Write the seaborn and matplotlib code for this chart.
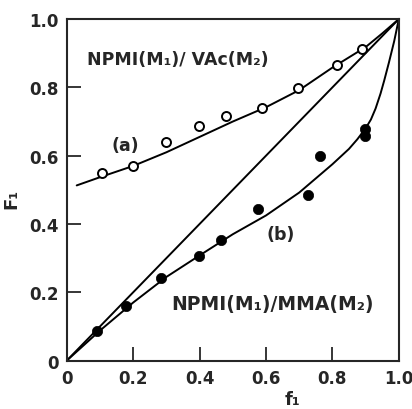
import numpy as np
import pandas as pd
import matplotlib
matplotlib.use("Agg")
import matplotlib.pyplot as plt
import seaborn as sns

# measured points, series (a): NPMI / VAc (open circles)
fa_pts = [0.105, 0.199, 0.298, 0.399, 0.479, 0.588, 0.697, 0.815, 0.89]
Fa_pts = [0.548, 0.569, 0.641, 0.687, 0.715, 0.740, 0.797, 0.867, 0.912]

# measured points, series (b): NPMI / MMA (filled circles)
fb_pts = [0.090, 0.178, 0.284, 0.397, 0.464, 0.575, 0.727, 0.764, 0.897, 0.897]
Fb_pts = [0.088, 0.159, 0.242, 0.307, 0.354, 0.444, 0.486, 0.600, 0.679, 0.657]

# fitted curves
fa_curve = [0.03, 0.1, 0.2, 0.3, 0.4, 0.5, 0.6, 0.7, 0.8, 0.9, 0.95, 1.0]
Fa_curve = [0.513, 0.537, 0.570, 0.610, 0.655, 0.700, 0.742, 0.792, 0.858, 0.918, 0.958, 1.0]

fb_curve = [0.0, 0.1, 0.2, 0.3, 0.4, 0.5, 0.6, 0.7, 0.8, 0.85, 0.875, 0.9,
            0.916, 0.93, 0.945, 0.956, 0.97, 0.986, 1.0]
Fb_curve = [0.0, 0.088, 0.170, 0.245, 0.308, 0.370, 0.425, 0.492, 0.575, 0.620, 0.648, 0.680,
            0.706, 0.738, 0.782, 0.820, 0.872, 0.935, 1.0]

diag = [0.0, 1.0]

ticks = [0, 0.2, 0.4, 0.6, 0.8, 1.0]
tick_labels = ["0", "0.2", "0.4", "0.6", "0.8", "1.0"]

sns.set_style("ticks")
plt.rcParams["font.family"] = ["DejaVu Sans"]
plt.rcParams["font.weight"] = "bold"

fig = plt.figure(figsize=(4.12, 4.10), dpi=100)
ax = fig.add_axes([0.162, 0.118, 0.806, 0.833])

lw = 1.4
sns.lineplot(x=diag, y=diag, ax=ax, color="black", lw=lw)
sns.lineplot(x=fa_curve, y=Fa_curve, ax=ax, color="black", lw=lw)
sns.lineplot(x=fb_curve, y=Fb_curve, ax=ax, color="black", lw=lw)

sns.scatterplot(x=fa_pts, y=Fa_pts, ax=ax, s=42, facecolor="white",
                edgecolor="black", linewidth=1.4, zorder=5)
sns.scatterplot(x=fb_pts, y=Fb_pts, ax=ax, s=55, color="black",
                edgecolor="black", linewidth=0.5, zorder=5)

ax.set_xlim(0, 1)
ax.set_ylim(0, 1)
ax.set_xticks(ticks)
ax.set_xticklabels(tick_labels)
ax.set_yticks(ticks)
ax.set_yticklabels(tick_labels)
ax.tick_params(direction="in", length=10, width=1.3, labelsize=12, pad=6)
for sp in ax.spines.values():
    sp.set_linewidth(1.5)
    sp.set_visible(True)

ax.set_xlabel("f₁", fontsize=13, fontweight="bold")
ax.set_ylabel("F₁", fontsize=13, fontweight="bold")
ax.xaxis.set_label_coords(0.681, -0.085)
ax.yaxis.set_label_coords(-0.14, 0.476)

txt = dict(fontweight="bold", va="center")
ax.text(0.062, 0.883, "NPMI(M₁)/ VAc(M₂)", ha="left", fontsize=12.5, **txt)
ax.text(0.176, 0.630, "(a)", ha="center", fontsize=12.5, **txt)
ax.text(0.645, 0.371, "(b)", ha="center", fontsize=12.5, **txt)
ax.text(0.316, 0.166, "NPMI(M₁)/MMA(M₂)", ha="left", fontsize=13.5, **txt)

fig.savefig("out.png", dpi=100)
